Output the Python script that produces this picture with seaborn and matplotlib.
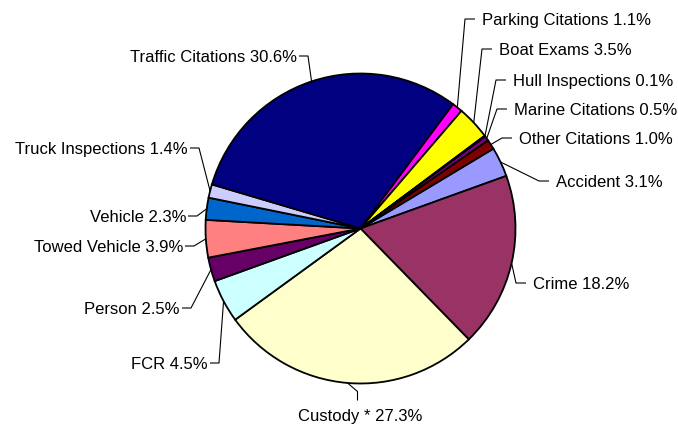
import numpy as np
import matplotlib
matplotlib.use('Agg')
import matplotlib.pyplot as plt
import seaborn as sns

sns.set_theme(style="white")
plt.rcParams['font.family'] = ['Liberation Sans', 'DejaVu Sans']

# data (order as in the workbook, clockwise)
categories = ["Accident", "Crime", "Custody *", "FCR", "Person", "Towed Vehicle",
              "Vehicle", "Truck Inspections", "Traffic Citations", "Parking Citations",
              "Boat Exams", "Hull Inspections", "Marine Citations", "Other Citations"]
shares = [3.1, 18.2, 27.3, 4.5, 2.5, 3.9, 2.3, 1.4, 30.6, 1.1, 3.5, 0.1, 0.5, 1.0]
colors = ["#9999FF", "#993366", "#FFFFCC", "#CCFFFF", "#660066", "#FF8080",
          "#0066CC", "#CCCCFF", "#000080", "#FF00FF", "#FFFF00", "#00FFFF",
          "#800080", "#800000"]

# layout: label anchor in pixels (x, y from top) and alignment
label_pos = [(556, 181, 'left'), (533, 283, 'left'), (360.5, 415.5, 'center'),
             (208, 363, 'right'), (180, 308, 'right'), (183, 246, 'right'),
             (186, 216, 'right'), (188, 148, 'right'), (297, 56, 'right'),
             (482, 19, 'left'), (499, 49, 'left'), (513, 80, 'left'),
             (514, 109, 'left'), (519, 138, 'left')]

W, H = 678, 424
cx, cy, R = 360.5, H - 228.5, 155

fig = plt.figure(figsize=(W / 100, H / 100), dpi=100)
ax = fig.add_axes([0, 0, 1, 1])
wedges, _ = ax.pie(shares, colors=colors, startangle=31, counterclock=False,
                   center=(cx, cy), radius=R,
                   wedgeprops=dict(edgecolor='black', linewidth=1.3))
ax.set_xlim(0, W)
ax.set_ylim(0, H)
ax.set_aspect('auto')
ax.axis('off')

for w, name, val, (lx, ly, ha) in zip(wedges, categories, shares, label_pos):
    mid = np.deg2rad((w.theta1 + w.theta2) / 2)
    px, py = cx + R * np.cos(mid), cy + R * np.sin(mid)
    ty = H - ly
    if ha == 'left':
        pts = [(lx - 7, ty), (lx - 17, ty), (px, py)]
    elif ha == 'right':
        pts = [(lx + 2, ty), (lx + 11, ty), (px, py)]
    else:
        pts = [(lx - 3, ty + 15), (lx - 3, ty + 24), (px, py)]
    xs, ys = zip(*pts)
    ax.plot(xs, ys, color='black', linewidth=0.8, solid_capstyle='butt')
    ax.text(lx, ty, f"{name} {val:.1f}%", ha=ha, va='center_baseline',
            fontsize=12, color='black')

fig.savefig('out.png', dpi=100)
